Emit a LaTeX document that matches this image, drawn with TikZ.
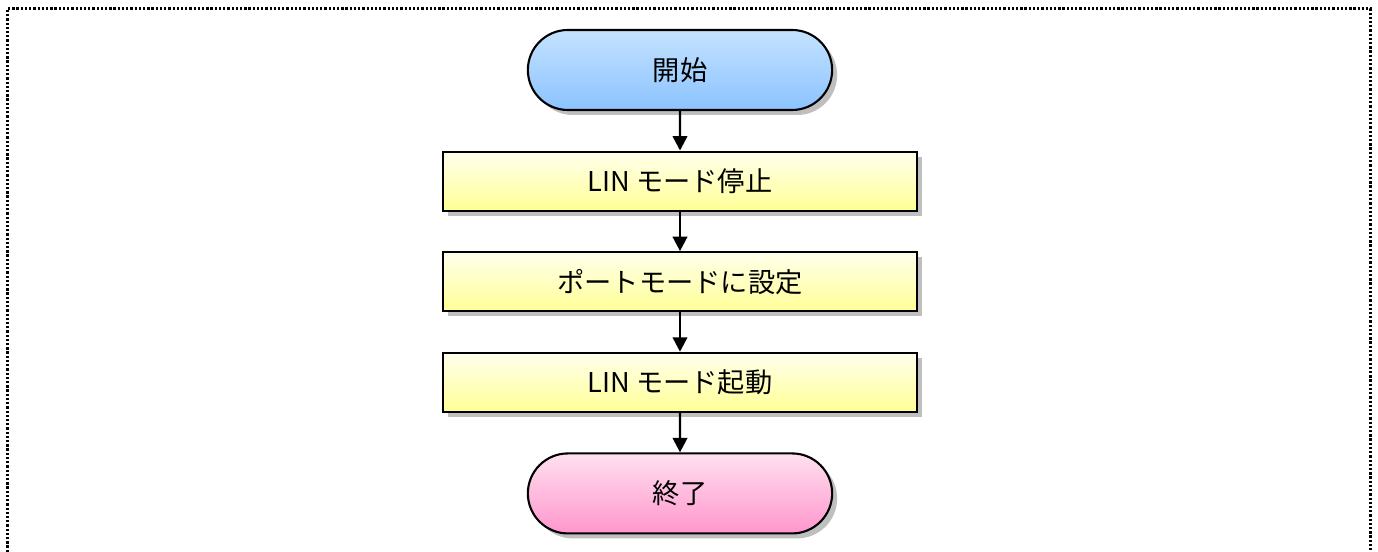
\documentclass[tikz,border=0pt]{standalone}
\usepackage{fontspec}
\setmainfont{Liberation Sans}
\newfontfamily\jpfont{Noto Sans CJK JP}
\usetikzlibrary{positioning,shapes.misc,shadows,arrows.meta}

\definecolor{starttop}{HTML}{C4E2FF}
\definecolor{startbot}{HTML}{8CC3FF}
\definecolor{stoptop}{HTML}{FFE0F0}
\definecolor{stopbot}{HTML}{FF96CC}
\definecolor{proctop}{HTML}{FFFFEC}
\definecolor{procbot}{HTML}{FFFF96}

\tikzset{
  flowshadow/.style={drop shadow={shadow xshift=0.1cm, shadow yshift=-0.1cm, fill=black!25, opacity=1}},
  startstop/.style={rounded rectangle, draw, line width=1.2pt, minimum width=6.32cm,
    minimum height=1.6cm, flowshadow, font=\jpfont\fontsize{15.5pt}{18pt}\selectfont},
  procbox/.style={rectangle, draw, line width=1.2pt, minimum width=9.48cm,
    minimum height=1.18cm, flowshadow, top color=proctop, bottom color=procbot,
    font=\jpfont\fontsize{15.5pt}{18pt}\selectfont},
  flow/.style={-{Triangle[length=0.29cm,width=0.29cm]}, line width=1.4pt}
}

\begin{document}
\begin{tikzpicture}[node distance=0.79cm]
            \useasboundingbox (0,0) rectangle (27.56,-11.04);
            % dotted frame, open at the bottom
            \draw[line width=0.045cm, dash pattern=on 1.3pt off 1.1pt]
                (0.15,-11.04) -- (0.15,-0.17) -- (27.41,-0.17) -- (27.41,-11.04);

            \node[startstop, top color=starttop, bottom color=startbot] (start) at (13.6,-1.4) {開始};
            \node[procbox, below=of start] (p1) {LIN モード停止};
            \node[procbox, below=of p1] (p2) {ポートモードに設定};
            \node[procbox, below=of p2] (p3) {LIN モード起動};
            \node[startstop, below=of p3, top color=stoptop, bottom color=stopbot] (stop) {終了};

            \draw[flow] (start) -- (p1);
            \draw[flow] (p1) -- (p2);
            \draw[flow] (p2) -- (p3);
            \draw[flow] (p3) -- (stop);
        \end{tikzpicture}
\end{document}
